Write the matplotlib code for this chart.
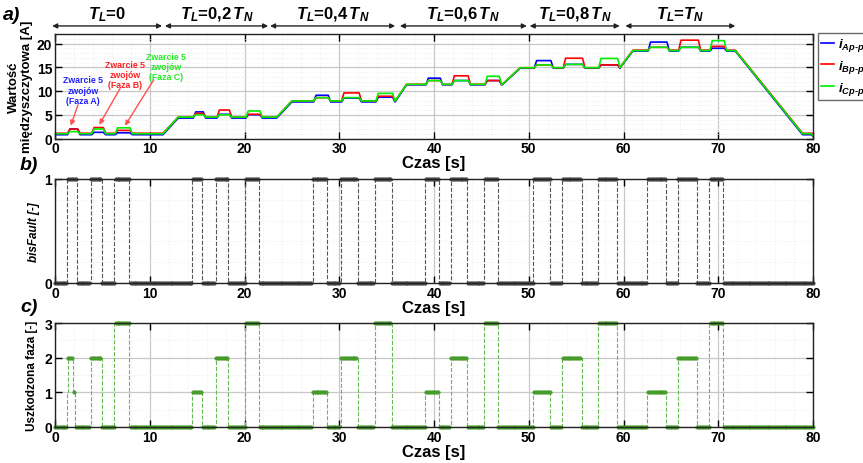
import numpy as np
import matplotlib
matplotlib.use("Agg")
import matplotlib.pyplot as plt
from matplotlib.ticker import MultipleLocator
import matplotlib.transforms as mtransforms

plt.rcParams['font.family'] = ['Liberation Sans', 'DejaVu Sans']
plt.rcParams['font.weight'] = 'bold'
plt.rcParams['mathtext.fontset'] = 'custom'
plt.rcParams['mathtext.it'] = 'Liberation Sans:italic:bold'
plt.rcParams['mathtext.rm'] = 'Liberation Sans:bold'
plt.rcParams['mathtext.bf'] = 'Liberation Sans:bold'

# ---------------- data ----------------
# fault intervals (panel b) [s]
fault_start = [1.23, 3.77, 6.26, 14.5, 17.0, 20.05, 27.2, 30.15, 33.77,
               39.05, 41.8, 45.28, 50.48, 53.54, 57.28, 62.5, 65.72, 69.02]
fault_end = [2.29, 5.0, 7.81, 15.55, 18.3, 21.53, 28.74, 32.0, 35.53,
             40.56, 43.5, 46.79, 52.24, 55.58, 59.28, 64.49, 67.8, 70.53]
# faulted phase (panel c); first fault shows 1 -> 2 -> 1
phase_start = [1.25, 1.35, 1.95, 3.77, 6.26, 14.5, 17.0, 20.05, 27.2, 30.15, 33.77,
               39.05, 41.8, 45.28, 50.48, 53.54, 57.28, 62.5, 65.72, 69.02]
phase_end = [1.35, 1.95, 2.1, 5.0, 7.81, 15.55, 18.3, 21.53, 28.74, 32.0, 35.53,
             40.56, 43.5, 46.79, 52.24, 55.58, 59.28, 64.49, 67.8, 70.53]
phase_value = [1, 2, 1, 2, 3, 1, 2, 3, 1, 2, 3, 1, 2, 3, 1, 2, 3, 1, 2, 3]

# current levels during each fault [A]
iA_fault = [2.0, 1.3, 1.2, 5.6, 5.1, 5.0, 9.1, 8.5, 8.7, 12.7, 12.2, 12.2,
            16.4, 15.6, 15.5, 20.3, 19.2, 19.0]
iB_fault = [2.0, 2.3, 1.7, 5.3, 6.0, 5.1, 8.6, 9.6, 8.9, 12.2, 13.2, 12.2,
            15.5, 16.9, 15.5, 19.2, 20.7, 19.4]
iC_fault = [1.45, 2.0, 2.25, 5.0, 5.0, 5.8, 8.6, 8.6, 9.5, 12.2, 12.2, 13.1,
            15.5, 15.6, 16.85, 19.2, 19.2, 20.6]
# baseline per load segment [A]
iA_base = [0.8, 4.3, 7.7, 11.3, 14.8, 18.4]
iB_base = [1.1, 4.5, 7.9, 11.4, 14.9, 18.6]
iC_base = [1.0, 4.5, 7.9, 11.4, 14.9, 18.5]
ramp_start = [11.4, 23.4, 35.9, 47.2, 59.6, 71.8]
ramp_end = [13.0, 25.0, 37.1, 49.1, 61.0, 78.9]
i_final = [0.8, 1.1, 1.0]
i_last = [0.5, 1.0, 0.6]

# load segments header
seg_from = [-0.3, 11.6, 22.7, 36.4, 50.1, 60.2]
seg_to = [11.3, 22.5, 35.9, 49.8, 59.6, 71.8]
seg_label = [r'$T_L$=0', r'$T_L$=0,2$\,T_N$', r'$T_L$=0,4$\,T_N$',
             r'$T_L$=0,6$\,T_N$', r'$T_L$=0,8$\,T_N$', r'$T_L$=$T_N$']

sample_dt = 0.2


def build_current(fault_lv, base, final, last):
    t, v = [0.0], [base[0]]
    for k in range(6):
        for j in range(3):
            f = 3 * k + j
            fs, fe = fault_start[f], fault_end[f]
            t += [fs + 0.1, fs + 0.35, fe + 0.1, fe + 0.35]
            v += [base[k], fault_lv[f], fault_lv[f], base[k]]
        nxt = base[k + 1] if k < 5 else final
        t += [ramp_start[k], ramp_end[k]]
        v += [base[k], nxt]
    t += [79.8, 80.0]
    v += [final, last]
    return t, v


def build_step(starts, ends, values):
    t, v = [0.0], [0.0]
    cur_end = 0.0
    for s, e, p in zip(starts, ends, values):
        if s > cur_end + 1e-9:
            t += [cur_end, s]
            v += [0, 0]
        prev = v[-1]
        t += [s, s, e]
        v += [prev, p, p]
        cur_end = e
    t += [cur_end, 80.0]
    v += [0, 0]
    return t, v


ts = np.arange(0, 80.0001, sample_dt)
isfault = np.zeros_like(ts)
for s, e in zip(fault_start, fault_end):
    isfault[(ts >= s) & (ts < e)] = 1
phase = np.zeros_like(ts)
for s, e, p in zip(phase_start, phase_end, phase_value):
    phase[(ts >= s) & (ts < e)] = p

# ---------------- figure ----------------
W, H = 863, 464
fig = plt.figure(figsize=(W / 100, H / 100), dpi=100)


def axrect(l, t, r, b):
    return [l / W, 1 - b / H, (r - l) / W, (b - t) / H]


axa = fig.add_axes(axrect(55, 35, 813, 139.5))
axb = fig.add_axes(axrect(55, 180, 813, 284))
axc = fig.add_axes(axrect(55, 324, 813, 428))

for ax in (axa, axb, axc):
    ax.set_xlim(0, 80)
    ax.xaxis.set_major_locator(MultipleLocator(10))
    ax.xaxis.set_minor_locator(MultipleLocator(2))
    ax.grid(True, which='major', color='#c8c8c8', lw=0.9)
    ax.grid(True, which='minor', color='#ececec', lw=0.6, ls=':')
    ax.set_axisbelow(True)
    ax.tick_params(direction='in', top=True, right=True, length=5, width=1,
                   labelsize=10, pad=2)
    ax.tick_params(which='minor', length=0)
    for sp in ax.spines.values():
        sp.set_linewidth(1.0)
        sp.set_color('#222222')
    ax.set_xlabel('Czas [s]', fontsize=12, fontweight='bold', labelpad=0)

# panel a
cols = ['#0000ff', '#ff0000', '#00ee00']
labels = [r'$i_{Ap\text{-}p}$', r'$i_{Bp\text{-}p}$', r'$i_{Cp\text{-}p}$']
for fl, bs, fn, ls_, c, lb in zip([iA_fault, iB_fault, iC_fault],
                                   [iA_base, iB_base, iC_base],
                                   i_final, i_last, cols, labels):
    t, v = build_current(fl, bs, fn, ls_)
    axa.plot(t, v, color=c, lw=1.2, label=lb)
axa.set_ylim(0, 22)
axa.yaxis.set_major_locator(MultipleLocator(5))
axa.yaxis.set_minor_locator(MultipleLocator(1))
axa.set_ylabel('Wartość\nmiędzyszczytowa [A]', fontsize=9.5, fontweight='bold',
               labelpad=3, linespacing=1.05)
leg = axa.legend(loc='upper left', bbox_to_anchor=(818 / W, 1 - 34 / H),
                 bbox_transform=fig.transFigure, fontsize=9.5, frameon=True,
                 fancybox=False, edgecolor='#444444', handlelength=1.0,
                 handletextpad=0.25, borderpad=0.25, labelspacing=0.35,
                 borderaxespad=0)
leg.get_frame().set_linewidth(1.0)

# annotations
ann = [("Zwarcie 5\nzwojów\n(Faza A)", '#2020ff', (2.99, 10.2), (2.43, 7.1), (1.66, 2.7)),
       ("Zwarcie 5\nzwojów\n(Faza B)", '#ff2020', (7.39, 13.4), (6.86, 10.5), (4.68, 2.9)),
       ("Zwarcie 5\nzwojów\n(Faza C)", '#20ee20', (11.7, 15.1), (10.4, 12.3), (7.39, 2.7))]
for txt, c, pos, tail, head in ann:
    axa.text(pos[0], pos[1], txt, color=c, fontsize=6.3, fontweight='bold',
             ha='center', va='center', linespacing=1.15)
    axa.annotate('', xy=head, xytext=tail,
                 arrowprops=dict(arrowstyle='-|>', color='#ff5050', lw=1.0,
                                 mutation_scale=7, shrinkA=0, shrinkB=0))

# header arrows
trans = mtransforms.blended_transform_factory(axa.transData, axa.transAxes)
for s, e, lb in zip(seg_from, seg_to, seg_label):
    axa.annotate('', xy=(e, 1.077), xytext=(s, 1.077), xycoords=trans,
                 textcoords=trans, annotation_clip=False,
                 arrowprops=dict(arrowstyle='<|-|>', color='#222222', lw=1.0,
                                 mutation_scale=7, shrinkA=0, shrinkB=0))
    axa.text((s + e) / 2, 1.19, lb, transform=trans, ha='center', va='center',
             fontsize=12, fontweight='bold', clip_on=False)

# panel b
tb, vb = build_step(fault_start, fault_end, [1] * len(fault_start))
axb.plot(tb, vb, ls='--', lw=0.8, color='#555555', clip_on=False)
axb.plot(ts, isfault, ls='none', marker='o', ms=2.6,
         mfc='#555555', mec='#333333', mew=0.3, clip_on=False)
axb.set_ylim(0, 1)
axb.set_yticks([0, 1])
axb.yaxis.set_minor_locator(MultipleLocator(0.2))
axb.set_ylabel('bisFault [-]', fontsize=8.5, fontweight='bold', style='italic',
               labelpad=3)

# panel c
tc, vc = build_step(phase_start, phase_end, phase_value)
axc.plot(tc, vc, ls='--', lw=0.8, color='#66bb55', clip_on=False)
axc.plot(ts, phase, ls='none', marker='o', ms=2.6,
         mfc='#4aa02c', mec='#3d8f22', mew=0.3, clip_on=False)
axc.set_ylim(0, 3)
axc.set_yticks([0, 1, 2, 3])
axc.yaxis.set_minor_locator(MultipleLocator(0.5))
axc.set_ylabel('Uszkodzona faza [-]', fontsize=8.5, fontweight='bold', labelpad=5)

for ax in (axa, axb, axc):
    for lab in ax.get_xticklabels() + ax.get_yticklabels():
        lab.set_fontweight('bold')

fig.text(3 / W, 1 - 15 / H, 'a)', fontsize=14, fontweight='bold', style='italic',
         va='center')
fig.text(20 / W, 1 - 165 / H, 'b)', fontsize=14, fontweight='bold', style='italic',
         va='center')
fig.text(20 / W, 1 - 308 / H, 'c)', fontsize=14, fontweight='bold', style='italic',
         va='center')

fig.savefig('out.png', dpi=100)
